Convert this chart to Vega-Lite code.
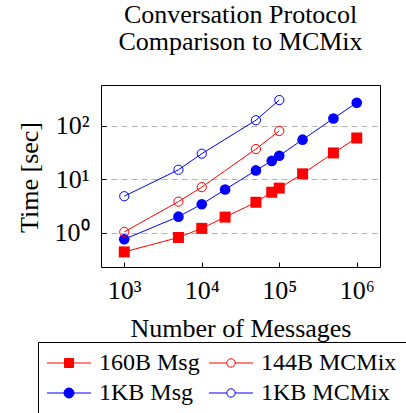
{
  "$schema": "https://vega.github.io/schema/vega-lite/v6.json",
  "autosize": {"type": "none"},
  "padding": {"left": 101, "top": 85, "right": 26, "bottom": 146},
  "width": 279,
  "height": 182,
  "title": {
    "text": ["Conversation Protocol", "Comparison to MCMix"],
    "font": "Liberation Serif",
    "fontSize": 26,
    "fontWeight": "normal",
    "lineHeight": 27,
    "offset": 30,
    "anchor": "middle",
    "color": "black"
  },
  "data": {
    "values": [
      {"series": "160B Msg", "n": 1000, "time": 0.435},
      {"series": "160B Msg", "n": 5000, "time": 0.81},
      {"series": "160B Msg", "n": 10000, "time": 1.2},
      {"series": "160B Msg", "n": 20000, "time": 1.95},
      {"series": "160B Msg", "n": 50000, "time": 3.7},
      {"series": "160B Msg", "n": 80000, "time": 5.7},
      {"series": "160B Msg", "n": 100000, "time": 6.8},
      {"series": "160B Msg", "n": 200000, "time": 12.6},
      {"series": "160B Msg", "n": 500000, "time": 31},
      {"series": "160B Msg", "n": 1000000, "time": 59},
      {"series": "144B MCMix", "n": 1000, "time": 1.03},
      {"series": "144B MCMix", "n": 5000, "time": 3.8},
      {"series": "144B MCMix", "n": 10000, "time": 7.1},
      {"series": "144B MCMix", "n": 50000, "time": 36.7},
      {"series": "144B MCMix", "n": 100000, "time": 80},
      {"series": "1KB Msg", "n": 1000, "time": 0.75},
      {"series": "1KB Msg", "n": 5000, "time": 1.99},
      {"series": "1KB Msg", "n": 10000, "time": 3.4},
      {"series": "1KB Msg", "n": 20000, "time": 6.4},
      {"series": "1KB Msg", "n": 50000, "time": 14.6},
      {"series": "1KB Msg", "n": 80000, "time": 22},
      {"series": "1KB Msg", "n": 100000, "time": 27.5},
      {"series": "1KB Msg", "n": 200000, "time": 55},
      {"series": "1KB Msg", "n": 500000, "time": 137},
      {"series": "1KB Msg", "n": 1000000, "time": 270},
      {"series": "1KB MCMix", "n": 1000, "time": 4.8},
      {"series": "1KB MCMix", "n": 5000, "time": 15},
      {"series": "1KB MCMix", "n": 10000, "time": 30},
      {"series": "1KB MCMix", "n": 50000, "time": 127},
      {"series": "1KB MCMix", "n": 100000, "time": 303}
    ]
  },
  "encoding": {
    "x": {
      "field": "n", "type": "quantitative",
      "scale": {"type": "log", "domain": [501, 1995262], "nice": false},
      "axis": {
        "values": [1000, 10000, 100000, 1000000],
        "labelExpr": "'10' + ['⁰','¹','²','³','⁴','⁵','⁶'][round(log(datum.value)/LN10)]",
        "title": "Number of Messages",
        "grid": false,
        "domain": false,
        "tickSize": -5,
        "tickColor": "black",
        "labelPadding": 36,
        "labelBaseline": "alphabetic",
        "labelFont": "Liberation Serif",
        "labelFontSize": 26,
        "labelColor": "black",
        "labelFlush": false,
        "labelOverlap": false,
        "titleFont": "Liberation Serif",
        "titleFontSize": 26,
        "titleFontWeight": "normal",
        "titleColor": "black",
        "titleY": 69,
        "titleBaseline": "alphabetic"
      }
    },
    "y": {
      "field": "time", "type": "quantitative",
      "scale": {"type": "log", "domain": [0.227, 580], "nice": false},
      "axis": {
        "values": [1, 10, 100],
        "labelExpr": "'10' + ['⁰','¹','²','³','⁴','⁵','⁶'][round(log(datum.value)/LN10)]",
        "title": "Time [sec]",
        "grid": true,
        "gridDash": [6, 4],
        "gridColor": "#b3b3b3",
        "gridWidth": 1,
        "domain": false,
        "tickSize": -5,
        "tickColor": "black",
        "labelPadding": 17,
        "labelFont": "Liberation Serif",
        "labelFontSize": 26,
        "labelColor": "black",
        "labelFlush": false,
        "labelOverlap": false,
        "titleFont": "Liberation Serif",
        "titleFontSize": 26,
        "titleFontWeight": "normal",
        "titleColor": "black",
        "titleX": -72,
        "titleY": 92,
        "titleBaseline": "middle"
      }
    },
    "color": {
      "field": "series", "type": "nominal",
      "scale": {
        "domain": ["160B Msg", "1KB Msg", "144B MCMix", "1KB MCMix"],
        "range": ["#ff0000", "#0000ff", "#ff0000", "#0000ff"]
      },
      "legend": {
        "orient": "none",
        "legendX": -63,
        "legendY": 257,
        "columns": 2,
        "gridAlign": "each",
        "title": null,
        "labelFont": "Liberation Serif",
        "labelFontSize": 24,
        "labelColor": "black",
        "labelAlign": "left",
        "symbolSize": 400,
        "padding": 9,
        "symbolOffset": 12,
        "labelOffset": 31,
        "columnPadding": 7,
        "rowPadding": 6,
        "strokeColor": "black",
        "fillColor": "white",
        "symbolStrokeWidth": 1,
        "encode": {
          "labels": {
            "update": {
              "x": {"value": 52},
              "align": {"value": "left"}
            }
          },
          "symbols": {
            "update": {
              "x": {"value": 22},
              "shape": {"signal": "datum.value === '160B Msg' ? 'M-2.2,0H2.2M-0.45,-0.45H0.45V0.45H-0.45Z' : datum.value === '1KB Msg' ? 'M-2.2,0H2.2M0.5,0A0.5,0.5 0 1 1 -0.5,0A0.5,0.5 0 1 1 0.5,0Z' : 'M-2.2,0H-0.42M0.42,0H2.2M0.42,0A0.42,0.42 0 1 1 -0.42,0A0.42,0.42 0 1 1 0.42,0Z'"},
              "fill": {"signal": "datum.value === '160B Msg' ? '#ff0000' : datum.value === '1KB Msg' ? '#0000ff' : 'transparent'"},
              "fillOpacity": {"signal": "indexof(datum.value, 'MCMix') >= 0 ? 0 : 1"},
              "stroke": {"signal": "indexof(datum.value, '1KB') === 0 ? '#0000ff' : '#ff0000'"},
              "strokeWidth": {"value": 1},
              "opacity": {"value": 1},
              "strokeOpacity": {"value": 1}
            }
          }
        }
      }
    }
  },
  "layer": [
    {"mark": {"type": "line", "strokeWidth": 1}},
    {
      "transform": [{"filter": "datum.series === '160B Msg'"}],
      "mark": {"type": "point", "shape": "square", "filled": true, "size": 121, "opacity": 1}
    },
    {
      "transform": [{"filter": "datum.series === '1KB Msg'"}],
      "mark": {"type": "point", "shape": "circle", "filled": true, "size": 113, "opacity": 1}
    },
    {
      "transform": [{"filter": "datum.series === '144B MCMix' || datum.series === '1KB MCMix'"}],
      "mark": {"type": "point", "shape": "circle", "filled": false, "size": 85, "strokeWidth": 1, "opacity": 1}
    }
  ],
  "config": {
    "font": "Liberation Serif",
    "view": {"stroke": "black", "strokeWidth": 1}
  }
}
